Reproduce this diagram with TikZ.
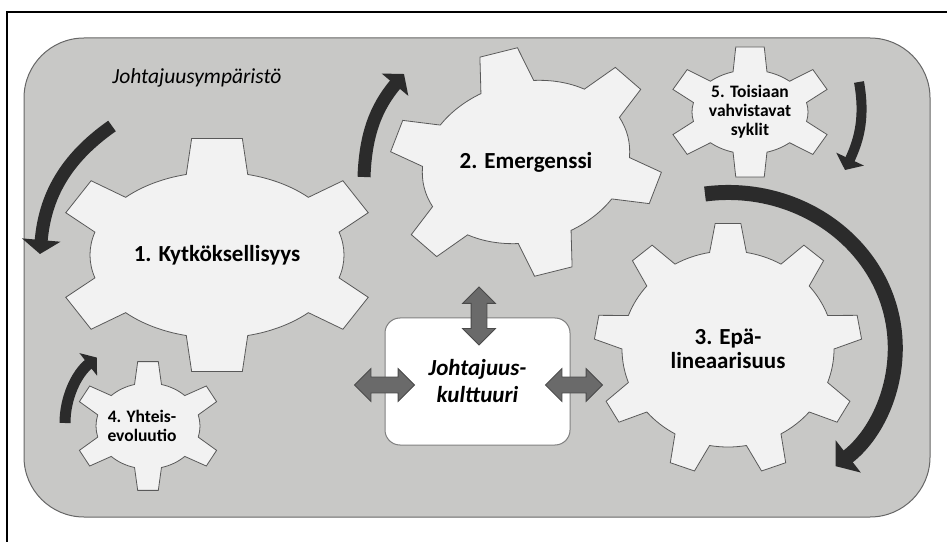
\documentclass[tikz,border=0pt]{standalone}
\usepackage{fontspec}
\setmainfont{Carlito}
\usetikzlibrary{arrows.meta,shapes.arrows,calc}

\definecolor{envgrey}{HTML}{C8C8C6}
\definecolor{gearwhite}{HTML}{F2F2F2}
\definecolor{gearline}{HTML}{595959}
\definecolor{arrowdark}{HTML}{2B2B2B}
\definecolor{dblgrey}{HTML}{6A6A6A}

% cogwheel: x radius, y radius, tooth height, teeth, base half angle, tip half angle
\newcommand{\cogwheel}[6]{%
  \filldraw[gear] ({#1*cos(90-#5)},{#2*sin(90-#5)})
    \foreach \ti [evaluate=\ti as \toothang using 90+(\ti-1)*360/#4] in {1,...,#4}{
      -- ({(#1+#3)*cos(\toothang-#6)},{(#2+#3)*sin(\toothang-#6)})
      -- ({(#1+#3)*cos(\toothang+#6)},{(#2+#3)*sin(\toothang+#6)})
      -- ({#1*cos(\toothang+#5)},{#2*sin(\toothang+#5)})
      arc[start angle={\toothang+#5}, end angle={\toothang+360/#4-#5}, x radius=#1pt, y radius=#2pt]
    } -- cycle;
}

\begin{document}
\begin{tikzpicture}[x=1pt,y=1pt,
    gear/.style={fill=gearwhite, draw=gearline, line width=0.8pt},
    envbox/.style={fill=envgrey, draw=gray!80!black, line width=1pt, rounded corners=60pt},
    culture/.style={rectangle, rounded corners=15pt, fill=white, draw=gray, line width=1pt,
      align=center, font=\fontsize{23}{27}\selectfont\bfseries\itshape},
    dblarrow/.style={double arrow, double arrow head extend=8.5pt, inner xsep=0pt, inner ysep=7.5pt,
      fill=dblgrey, draw=dblgrey!70!black, line width=0.8pt},
    turn/.style={draw=arrowdark, line cap=butt},
    big label/.style={align=center, font=\fontsize{23}{24}\selectfont\bfseries},
    small label/.style={align=center, font=\fontsize{17.5}{19}\selectfont\bfseries},
    env label/.style={font=\fontsize{21.5}{24}\selectfont\itshape}]
\useasboundingbox (0,0) rectangle (947,541);
\draw[line width=1.5pt] (7,-5) -- (7,529) -- (955,529);
\draw[envbox] (24,24) rectangle (930,503);

\coordinate (g1) at (217,286);
\coordinate (g2) at (526,379);
\coordinate (g3) at (728,192);
\coordinate (g4) at (148,115);
\coordinate (g5) at (750,429);

\begin{scope}[shift={(g1)}] \cogwheel{127}{83}{35}{6}{14}{9} \end{scope}
\begin{scope}[shift={(g2)},rotate=14] \cogwheel{105}{80}{34}{6}{15}{8} \end{scope}
\begin{scope}[shift={(g3)}] \cogwheel{106}{98}{28}{9}{10}{5.5} \end{scope}
\begin{scope}[shift={(g4)}] \cogwheel{52}{43}{22}{6}{15}{8} \end{scope}
\begin{scope}[shift={(g5)}] \cogwheel{58}{42}{24}{6}{17}{10} \end{scope}

\node[env label] (env) at (197,463) {Johtajuusympäristö};
\node[big label] (kyt) at (g1) {1. Kytköksellisyys};
\node[big label] (emg) at (g2) {2. Emergenssi};
\node[big label] (epa) at (g3) {3. Epä-\\lineaarisuus};
\node[small label] (yht) at ([xshift=-6pt]g4) {4. Yhteis-\\evoluutio};
\node[small label] (tois) at (g5) {5. Toisiaan\\vahvistavat\\syklit};

\node[culture, minimum width=185pt, minimum height=127pt] (kult) at (477.5,159.5) {Johtajuus-\\kulttuuri};
\node[dblarrow, minimum height=58pt, rotate=90] (aup) at ([xshift=1.5pt,yshift=1.5pt]kult.north) {};
\node[dblarrow, minimum height=60pt] (aleft) at ([yshift=-3.5pt]kult.west) {};
\node[dblarrow, minimum height=57pt] (aright) at ([xshift=3.5pt,yshift=-3.5pt]kult.east) {};

\coordinate (a1s) at (112,415);
\coordinate (a1e) at (40,287);
\coordinate (a2s) at (364,364);
\coordinate (a2e) at (404,467);
\coordinate (a3s) at (859,459);
\coordinate (a3e) at (845,371);
\coordinate (a4s) at (705,347);
\coordinate (a5s) at (65,118);

\draw[turn, line width=13pt, -{Triangle[length=14pt,width=38pt]}] (a1s) to[out=215,in=85] (a1e);
\draw[turn, line width=13pt, -{Triangle[length=14pt,width=34pt]}] (a2s) to[out=88,in=230] (a2e);
\draw[turn, line width=10pt, -{Triangle[length=12pt,width=30pt]}] (a3s) to[out=-80,in=65] (a3e);
\draw[turn, line width=15pt, -{Triangle[length=16pt,width=40pt]}] (a4s) arc[start angle=98, end angle=-50, x radius=167pt, y radius=155pt];
\draw[turn, line width=11pt, -{Triangle[length=11pt,width=28pt]}] (a5s) arc[start angle=180, end angle=128, radius=83pt];
\end{tikzpicture}
\end{document}
